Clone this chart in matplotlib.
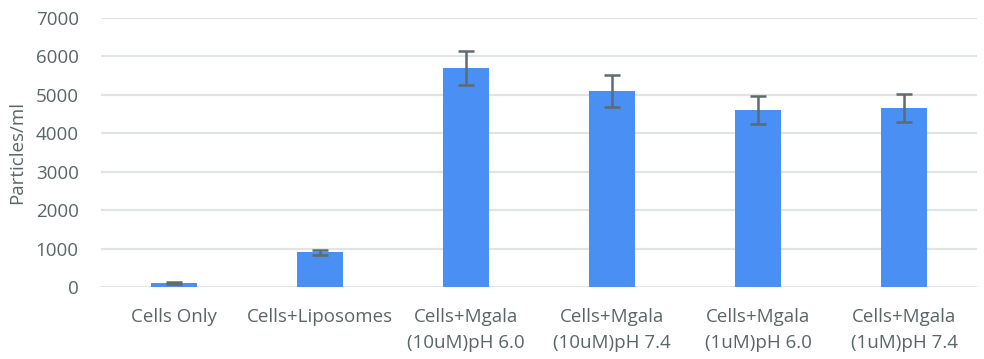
import numpy as np
import matplotlib.pyplot as plt

plt.rcParams['font.family'] = ['Open Sans', 'DejaVu Sans']

categories = ['Cells Only', 'Cells+Liposomes', 'Cells+Mgala\n(10uM)pH 6.0',
              'Cells+Mgala\n(10uM)pH 7.4', 'Cells+Mgala\n(1uM)pH 6.0',
              'Cells+Mgala\n(1uM)pH 7.4']
values = [100, 900, 5700, 5100, 4600, 4650]
errors = [20, 70, 450, 420, 370, 370]
yticks = [0, 1000, 2000, 3000, 4000, 5000, 6000, 7000]

text_color = '#5b6567'
fig = plt.figure(figsize=(9.84, 3.59), dpi=100)
ax = fig.add_axes([0.1026, 0.2006, 0.8904, 0.7494])

x = np.arange(len(categories))
ax.bar(x, values, width=0.31, color='#4a8ff4', zorder=3)
ax.errorbar(x, values, yerr=errors, fmt='none', ecolor='#5f6b6d',
            elinewidth=1.8, capsize=6, capthick=1.8, zorder=4)

ax.set_xlim(-0.5, len(categories) - 0.5)
ax.set_ylim(0, 7000)
ax.set_yticks(yticks)
ax.set_xticks(x)
ax.set_xticklabels(categories, fontsize=13.5, color=text_color, linespacing=1.6)
ax.tick_params(axis='y', labelsize=13.5, labelcolor=text_color, length=0, pad=16)
ax.tick_params(axis='x', length=0, pad=15)
ax.yaxis.grid(True, color='#e0e4e4', linewidth=1.6, zorder=0)
for s in ax.spines.values():
    s.set_visible(False)
ax.set_ylabel('Particles/ml', fontsize=13.5, color=text_color, labelpad=7)

fig.savefig('out.png', dpi=100)
